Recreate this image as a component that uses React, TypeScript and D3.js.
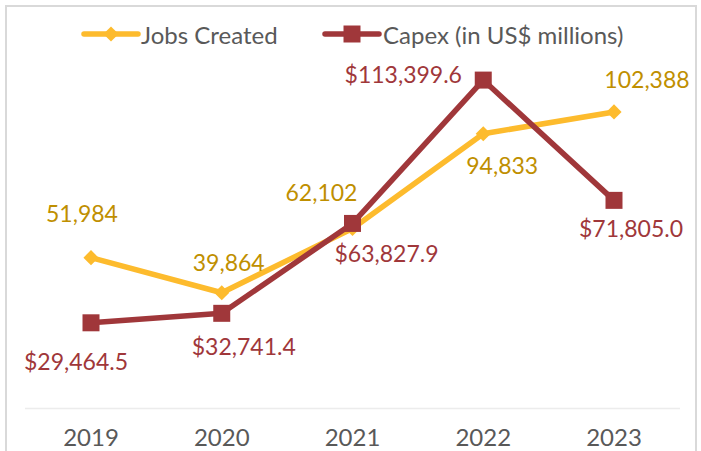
import React, { useEffect, useRef } from 'react';
import * as d3 from 'd3';

const years = ['2019', '2020', '2021', '2022', '2023'];
const jobsCreated = [51984, 39864, 62102, 94833, 102388];
const capex = [29464.5, 32741.4, 63827.9, 113399.6, 71805.0];

// label offsets relative to each point (dx, dy)
const jobsLabelOffsets: [number, number][] = [[-9, -45], [7, -31], [-31, -36], [19, 31], [33, -33]];
const capexLabelOffsets: [number, number][] = [[-15, 38], [22, 33], [34, 30], [-80, -6], [17, 28]];

const JOBS_COLOR = '#fdbb2d';
const CAPEX_COLOR = '#a0373a';
const JOBS_LABEL = '#bf8f00';
const CAPEX_LABEL = '#a0373a';
const TEXT = '#595959';
const FONT = 'Lato, "Open Sans", sans-serif';

const App: React.FC = () => {
  const ref = useRef<SVGSVGElement | null>(null);

  useEffect(() => {
    if (!ref.current) return;
    const svg = d3.select(ref.current);
    svg.selectAll('*').remove();

    const width = 701;
    const height = 451;

    // chart border
    svg.append('rect')
      .attr('x', 6).attr('y', 6)
      .attr('width', 690).attr('height', 460)
      .attr('fill', '#fff')
      .attr('stroke', '#d9d9d9')
      .attr('stroke-width', 2);

    const x = d3.scalePoint<string>()
      .domain(years)
      .range([91, 614]);

    const yJobs = d3.scaleLinear().domain([0, 120000]).range([408, 61]);
    const yCapex = d3.scaleLinear().domain([0, 120000]).range([408, 61]);

    // baseline
    svg.append('line')
      .attr('x1', 25).attr('x2', 680)
      .attr('y1', 408.5).attr('y2', 408.5)
      .attr('stroke', '#ececec')
      .attr('stroke-width', 1.5);

    // x axis labels
    svg.append('g')
      .selectAll('text')
      .data(years)
      .enter()
      .append('text')
      .attr('x', d => x(d) || 0)
      .attr('y', 446)
      .attr('text-anchor', 'middle')
      .style('font-family', FONT)
      .style('font-size', '24px')
      .style('fill', TEXT)
      .text(d => d);

    const jobsLine = d3.line<number>()
      .x((_, i) => x(years[i]) || 0)
      .y(d => yJobs(d));
    const capexLine = d3.line<number>()
      .x((_, i) => x(years[i]) || 0)
      .y(d => yCapex(d));

    svg.append('path')
      .attr('d', jobsLine(jobsCreated) || '')
      .attr('fill', 'none')
      .attr('stroke', JOBS_COLOR)
      .attr('stroke-width', 5.5)
      .attr('stroke-linejoin', 'round');

    svg.append('path')
      .attr('d', capexLine(capex) || '')
      .attr('fill', 'none')
      .attr('stroke', CAPEX_COLOR)
      .attr('stroke-width', 5.5)
      .attr('stroke-linejoin', 'round');

    const diamond = d3.symbol().type(d3.symbolSquare).size(115);
    const square = d3.symbol().type(d3.symbolSquare).size(289);

    svg.append('g')
      .selectAll('path')
      .data(jobsCreated)
      .enter()
      .append('path')
      .attr('d', diamond() || '')
      .attr('transform', (d, i) => `translate(${x(years[i])},${yJobs(d)}) rotate(45)`)
      .attr('fill', JOBS_COLOR);

    svg.append('g')
      .selectAll('path')
      .data(capex)
      .enter()
      .append('path')
      .attr('d', square() || '')
      .attr('transform', (d, i) => `translate(${x(years[i])},${yCapex(d)})`)
      .attr('fill', CAPEX_COLOR);

    // data labels
    svg.append('g')
      .selectAll('text')
      .data(jobsCreated)
      .enter()
      .append('text')
      .attr('x', (_, i) => (x(years[i]) || 0) + jobsLabelOffsets[i][0])
      .attr('y', (d, i) => yJobs(d) + jobsLabelOffsets[i][1])
      .attr('text-anchor', 'middle')
      .attr('dominant-baseline', 'central')
      .style('font-family', FONT)
      .style('font-size', '23px')
      .style('fill', JOBS_LABEL)
      .text(d => d3.format(',')(d));

    svg.append('g')
      .selectAll('text')
      .data(capex)
      .enter()
      .append('text')
      .attr('x', (_, i) => (x(years[i]) || 0) + capexLabelOffsets[i][0])
      .attr('y', (d, i) => yCapex(d) + capexLabelOffsets[i][1])
      .attr('text-anchor', 'middle')
      .attr('dominant-baseline', 'central')
      .style('font-family', FONT)
      .style('font-size', '23px')
      .style('fill', CAPEX_LABEL)
      .text(d => '$' + d3.format(',.1f')(d));

    // legend
    const legend = svg.append('g').attr('transform', 'translate(0,34)');
    legend.append('line')
      .attr('x1', 84).attr('x2', 138)
      .attr('stroke', JOBS_COLOR).attr('stroke-width', 5.5).attr('stroke-linecap', 'round');
    legend.append('path')
      .attr('d', diamond() || '')
      .attr('transform', 'translate(111,0) rotate(45)')
      .attr('fill', JOBS_COLOR);
    legend.append('text')
      .attr('x', 141).attr('y', 0)
      .attr('dominant-baseline', 'central')
      .style('font-family', FONT).style('font-size', '24px').style('fill', TEXT)
      .text('Jobs Created');

    legend.append('line')
      .attr('x1', 325).attr('x2', 379)
      .attr('stroke', CAPEX_COLOR).attr('stroke-width', 5.5).attr('stroke-linecap', 'round');
    legend.append('path')
      .attr('d', square() || '')
      .attr('transform', 'translate(352,0)')
      .attr('fill', CAPEX_COLOR);
    legend.append('text')
      .attr('x', 383).attr('y', 0)
      .attr('dominant-baseline', 'central')
      .style('font-family', FONT).style('font-size', '24px').style('fill', TEXT)
      .text('Capex (in US$ millions)');

    svg.attr('width', width).attr('height', height);
  }, []);

  return (
    <svg ref={ref} width={701} height={451}
      style={{ position: 'absolute', left: 0, top: 0, display: 'block' }} />
  );
};

export default App;
